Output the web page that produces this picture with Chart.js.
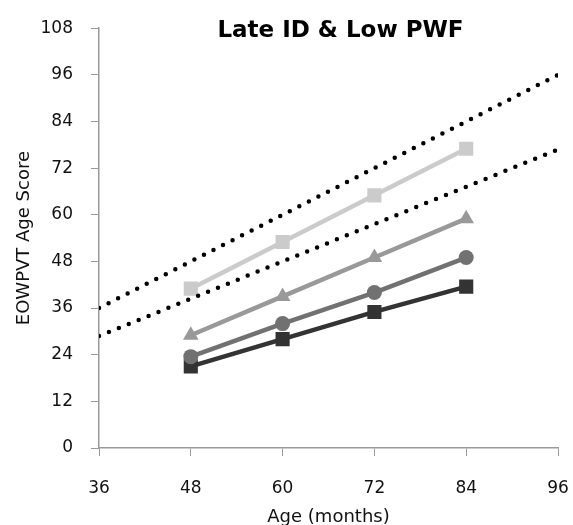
<!DOCTYPE html>
<html>
<head>
<meta charset="utf-8">
<script src="https://cdn.jsdelivr.net/npm/chart.js@4/dist/chart.umd.min.js"></script>
<style>
  html, body { margin: 0; padding: 0; background: #fff; }
  #wrap { width: 573px; height: 525px; }
</style>
</head>
<body>
<div id="wrap"><canvas id="ageChart"></canvas></div>
<script>
// ages at which scores were observed
const ages = [48, 60, 72, 84];

// score series (lightest to darkest)
const lightSquare = [41, 53, 65, 77];
const triangle = [29, 39, 49, 59];
const circle = [23.5, 32, 40, 49];
const darkSquare = [21, 28, 35, 41.5];

// reference lines: age-equivalent and 80% of age
const refAges = [36, 96];
const refFull = [36, 96];
const refEighty = [28.8, 76.8];

const xTicks = [36, 48, 60, 72, 84, 96];
const yTicks = [0, 12, 24, 36, 48, 60, 72, 84, 96, 108];

function pts(xs, ys) {
    return xs.map((x, i) => ({ x: x, y: ys[i] }));
}

function seriesSet(label, values, color, style, radius) {
    return {
        label: label,
        data: pts(ages, values),
        borderColor: color,
        backgroundColor: color,
        borderWidth: 4.5,
        pointStyle: style,
        pointRadius: radius,
        pointBorderWidth: 0,
        tension: 0
    };
}

function dottedSet(label, values) {
    return {
        label: label,
        data: pts(refAges, values),
        borderColor: '#000',
        borderWidth: 4.5,
        borderDash: [0, 10.7],
        borderCapStyle: 'round',
        pointRadius: 0,
        tension: 0
    };
}

// chart title drawn over the plot area
const titlePlugin = {
    id: 'plotTitle',
    afterDraw(chart) {
        const { ctx, chartArea } = chart;
        ctx.save();
        ctx.font = 'bold 23px "DejaVu Sans"';
        ctx.fillStyle = '#000';
        ctx.textAlign = 'center';
        ctx.textBaseline = 'middle';
        ctx.fillText('Late ID & Low PWF', (chartArea.left + chartArea.right) / 2 + 12, chartArea.top + 3);
        ctx.restore();
    }
};

const tickFont = { family: 'DejaVu Sans', size: 17 };
const axisGray = '#9a9a9a';

new Chart(document.getElementById('ageChart'), {
    type: 'line',
    data: {
        datasets: [
            dottedSet('Age', refFull),
            dottedSet('80% of age', refEighty),
            seriesSet('Group 1', lightSquare, '#cbcbcb', 'rect', 10),
            seriesSet('Group 2', triangle, '#999999', 'triangle', 9),
            seriesSet('Group 3', circle, '#717171', 'circle', 7.5),
            seriesSet('Group 4', darkSquare, '#333333', 'rect', 10)
        ]
    },
    options: {
        responsive: true,
        maintainAspectRatio: false,
        animation: false,
        layout: { padding: { top: 28, right: 0, bottom: 0, left: 14 } },
        scales: {
            x: {
                type: 'linear',
                min: 36,
                max: 96,
                afterBuildTicks: (s) => { s.ticks = xTicks.map(v => ({ value: v })); },
                afterFit: (s) => { s.height = 77; s.paddingRight = 15; s.paddingLeft = 0; },
                ticks: { font: tickFont, color: '#111', padding: 22, maxRotation: 0 },
                grid: { drawOnChartArea: false, tickLength: 8, color: axisGray },
                border: { color: axisGray, width: 1.5 },
                title: {
                    display: true,
                    text: 'Age (months)',
                    font: { family: 'DejaVu Sans', size: 18 },
                    color: '#111',
                    padding: { top: 0, bottom: -3 }
                }
            },
            y: {
                min: 0,
                max: 108,
                afterBuildTicks: (s) => { s.ticks = yTicks.map(v => ({ value: v })); },
                afterFit: (s) => { s.width = 85; },
                ticks: { font: tickFont, color: '#111', padding: 18 },
                grid: { drawOnChartArea: false, tickLength: 8, color: axisGray },
                border: { color: axisGray, width: 1.5 },
                title: {
                    display: true,
                    text: 'EOWPVT Age Score',
                    font: { family: 'DejaVu Sans', size: 18 },
                    color: '#111',
                    padding: { top: 0, bottom: 0 }
                }
            }
        },
        plugins: {
            legend: { display: false },
            tooltip: { enabled: false }
        }
    },
    plugins: [titlePlugin]
});
</script>
</body>
</html>
